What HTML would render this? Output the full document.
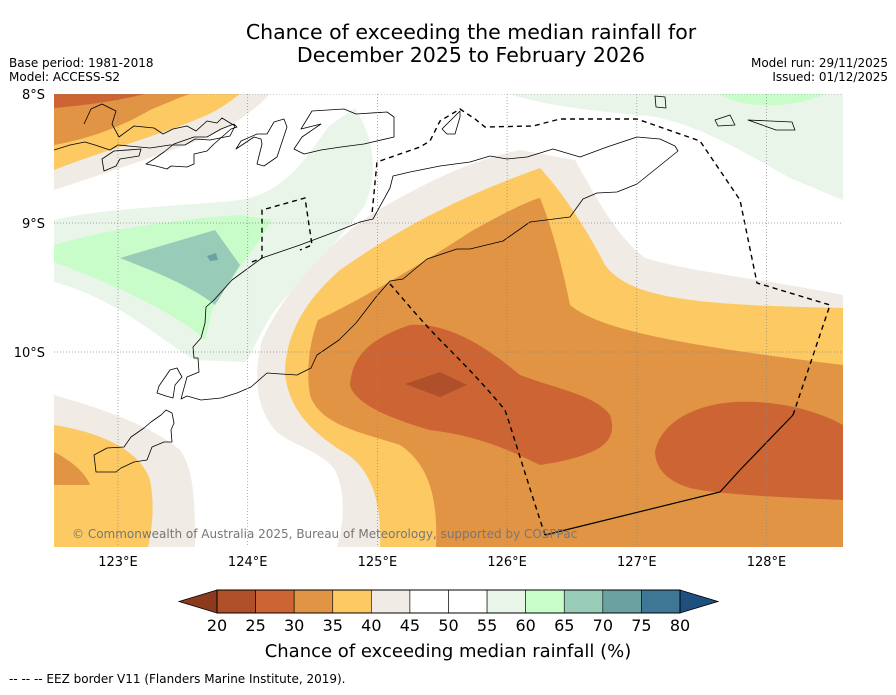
<!DOCTYPE html>
<html><head><meta charset="utf-8"><style>
body{margin:0;background:#fff;width:896px;height:690px;overflow:hidden;font-family:"Liberation Sans","DejaVu Sans",sans-serif}
svg text{font-family:"DejaVu Sans","Liberation Sans",sans-serif}
</style></head><body>
<svg id="s" width="896" height="690" viewBox="0 0 896 690">
<defs><clipPath id="mc"><rect x="54" y="94" width="789" height="453"/></clipPath></defs>
<text x="471" y="39" font-size="20.5" text-anchor="middle">Chance of exceeding the median rainfall for</text>
<text x="471" y="62" font-size="20.5" text-anchor="middle">December 2025 to February 2026</text>
<text x="9" y="67" font-size="12">Base period: 1981-2018</text>
<text x="9" y="81" font-size="12">Model: ACCESS-S2</text>
<text x="888" y="67" font-size="12" text-anchor="end">Model run: 29/11/2025</text>
<text x="888" y="81" font-size="12" text-anchor="end">Issued: 01/12/2025</text>
<g clip-path="url(#mc)">
<rect x="54" y="94" width="789" height="453" fill="#fff"/>
<g fill="#e9f5e9">
<path d="M54,220 C100,208 200,205 240,200 C290,192 310,150 330,125 L355,108 C375,140 378,175 365,205 C340,240 300,280 275,310 C258,335 252,355 245,362 L195,360 C160,340 120,300 54,282Z"/>
<path d="M510,94 C540,105 600,112 650,116 C700,125 740,150 790,178 L843,200 L843,94Z"/>
</g>
<g fill="#c8fcc8">
<path d="M54,245 C110,228 190,218 240,215 L272,220 C255,250 225,285 212,310 L205,340 C185,320 130,290 54,262Z"/>
<path d="M720,94 C740,108 790,110 825,94Z"/>
</g>
<path d="M120,258 L215,230 L240,265 L215,305 C190,285 150,270 120,258Z" fill="#99ccb8"/>
<path d="M207,256 L216,253 L218,260 L210,261Z" fill="#6aa2a2"/>
<g fill="#f0ebe5">
<path d="M337,547 C345,520 345,490 335,470 C320,450 290,445 275,430 C258,410 252,380 262,340 C280,300 320,250 370,215 C420,185 470,160 520,150 L575,160 C595,195 615,235 645,258 C690,272 770,280 843,295 L843,547Z"/>
<path d="M54,190 C100,175 160,155 200,140 C230,128 255,110 270,94 L54,94Z"/>
<path d="M54,395 C100,408 150,425 180,450 C195,470 195,510 195,547 L54,547Z"/>
</g>
<g fill="#fdc963">
<path d="M380,547 C382,500 370,465 340,450 C310,430 290,410 285,375 C285,340 300,305 340,270 C390,235 450,200 540,168 C565,195 590,235 605,265 C630,298 690,305 843,308 L843,547Z"/>
<path d="M54,170 C100,152 160,135 200,118 C220,110 232,100 240,94 L54,94Z"/>
<path d="M54,425 C100,432 140,450 150,480 C155,505 152,530 148,547 L54,547Z"/>
</g>
<g fill="#e09444">
<path d="M436,547 C438,500 430,465 400,445 C360,432 320,425 310,395 C305,365 312,335 318,320 C360,300 420,265 470,232 C500,215 530,200 540,198 C555,235 565,280 570,305 C600,330 680,345 843,365 L843,547Z"/>
<path d="M54,145 C95,138 130,122 150,110 C170,102 180,97 190,94 L54,94Z"/>
<path d="M54,452 C70,460 85,472 90,485 L54,485Z"/>
</g>
<g fill="#cc6433">
<path d="M350,385 C352,360 365,340 410,325 C450,322 490,350 520,375 C560,390 595,395 610,415 C618,440 605,455 540,465 C500,445 470,435 430,430 C395,420 355,405 350,385Z"/>
<path d="M655,452 C660,425 690,405 735,402 C780,400 820,412 843,425 L843,500 C800,498 720,495 690,488 C665,480 656,468 655,452Z"/>
<path d="M54,94 L145,94 C120,100 90,105 54,108Z"/>
</g>
<path d="M405,384 L440,372 L467,385 L440,397Z" fill="#b0502a"/>
<g fill="none" stroke="#000" stroke-width="0.8" stroke-linejoin="round">
<path d="M181,399 L187,396 L201,400 L221,398 L237,393 L251,387 L267,373 L281,374 L297,375 L311,368 L317,355 L339,340 L356,323 L376,297 L390,281 L403,279 L427,259 L457,249 L470,249 L503,241 L530,222 L570,217 L583,199 L597,193 L617,192 L637,184 L678,151 L675,146 L660,139 L637,137 L607,147 L580,157 L553,149 L527,157 L507,159 L490,156 L470,162 L440,166 L410,172 L393,176 L390,188 L373,219 L360,222 L340,230 L300,245 L262,258 L232,280 L214,300 L206,307 L205,323 L201,338 L193,347 L194,358 L198,358 L199,372 L187,377 Z"/>
<path d="M157,393 L159,386 L170,370 L177,368 L182,377 L175,385 L173,398 L166,396Z"/>
<path d="M166,410 L172,413 L174,423 L171,430 L172,442 L164,442 L152,447 L147,460 L134,462 L121,468 L116,472 L96,472 L94,455 L107,448 L124,447 L131,437 L144,428 L151,422 L161,415Z"/>
<path d="M54,150 L70,145 L85,142 L95,145 L110,150 L118,145 L150,148 L170,145 L185,145 L195,139 L210,140 L230,136 L235,126 L222,118 L217,123 L207,121 L196,131 L187,126 L173,129 L163,134 L154,128 L134,126 L119,137 L112,124 L116,111 L102,104 L91,109 L84,124"/>
<path d="M104,171 L102,159 L114,151 L141,149 L139,156 L120,159 L116,166Z"/>
<path d="M146,164 L154,159 L164,152 L174,144 L194,137 L207,137 L221,129 L234,124 L237,127 L231,129 L214,144 L207,151 L194,154 L194,164 L187,167 L171,166 L167,169 L156,166Z"/>
<path d="M236,149 L254,137 L261,139 L262,144 L257,164 L264,166 L277,157 L287,127 L284,119 L274,122 L267,134 L257,134 L241,141Z"/>
<path d="M294,149 L302,137 L321,124 L301,129 L312,111 L344,109 L356,114 L387,112 L394,117 L394,137 L364,144 L341,147 L321,150 L304,154Z"/>
<path d="M442,129 L460,111 L460,117 L455,134 L447,134Z"/>
<path d="M655,96 L665,97 L666,108 L656,107Z"/><path d="M715,120 L730,115 L735,125 L718,126Z"/><path d="M748,120 L792,122 L795,130 L776,130Z"/>
</g>
<g fill="none" stroke="#000" stroke-width="1.4" stroke-dasharray="5,4">
<path d="M390,284 C400,295 415,314 440,340 C460,360 480,380 505,410 C515,440 530,490 545,535"/>
<path d="M793,415 L830,305 L757,283 L740,200 L700,141 L637,119 L560,119 L533,126 L485,127 L475,119 L460,109 L440,121 L430,141 L420,147 L377,162 L372,214"/>
<path d="M252,262 L262,258 L262,210 L305,198 L312,245 L300,250"/>
</g>
<path d="M545,535 L720,492 L740,470 L793,415" fill="none" stroke="#000" stroke-width="1.2"/>
<g id="grid" stroke="#888" stroke-width="0.7" stroke-dasharray="1,2"></g>
<text x="72" y="538" font-size="12" fill="#777">© Commonwealth of Australia 2025, Bureau of Meteorology, supported by COSPPac</text>
</g>
<g id="axes"></g>
<g id="cbar"></g>
<text x="448" y="657" font-size="18" text-anchor="middle">Chance of exceeding median rainfall (%)</text>
<text x="9" y="683" font-size="12">--  --  -- EEZ border V11 (Flanders Marine Institute, 2019).</text>
</svg>
<script>
const lonTicks=[123,124,125,126,127,128];
const latTicks=[8,9,10];
const cbLevels=[20,25,30,35,40,45,50,55,60,65,70,75,80];
const cbColors=["#b0502a","#cc6433","#e09444","#fdc963","#f0ebe5","#ffffff","#ffffff","#e9f5e9","#c8fcc8","#99ccb8","#6aa2a2","#3e7796"];
const NS="http://www.w3.org/2000/svg";
const xLon=l=>118+(l-123)*129.7;
const yLat=l=>94+(l-8)*129;
const xCb=v=>217+(v-20)*(463/60);
function mk(tag,attrs,parent,txt){const e=document.createElementNS(NS,tag);for(const k in attrs)e.setAttribute(k,attrs[k]);if(txt!==undefined)e.textContent=txt;parent.appendChild(e);return e;}
const grid=document.getElementById('grid'),axes=document.getElementById('axes'),cb=document.getElementById('cbar');
lonTicks.forEach(l=>{const x=xLon(l);
 const g=mk('line',{x1:x,x2:x,y1:94,y2:547},grid);
 
 
 const t=mk('text',{x:x,y:566,'font-size':13,'text-anchor':'middle'},axes,l+'°E');
 
 });
latTicks.forEach(l=>{const y=yLat(l);
 const g=mk('line',{x1:54,x2:843,y1:y,y2:y},grid);
 
 
 const t=mk('text',{x:45,y:y+5,'font-size':13,'text-anchor':'end'},axes,l+'°S');
 
 });
const y0=590,h=23;
const la=mk('polygon',{points:`${xCb(20)},${y0} ${xCb(20)},${y0+h} 179,${y0+h/2}`,fill:'#8b3a1e',stroke:'#000','stroke-width':0.8},cb);


const ra=mk('polygon',{points:`${xCb(80)},${y0} ${xCb(80)},${y0+h} 718,${y0+h/2}`,fill:'#1f4f7f',stroke:'#000','stroke-width':0.8},cb);


cbColors.forEach((c,i)=>{const r=mk('rect',{x:xCb(cbLevels[i]),y:y0,width:xCb(cbLevels[i+1])-xCb(cbLevels[i]),height:h,fill:c,stroke:'#000','stroke-width':0.6},cb);
 
 });
const ob=mk('rect',{x:xCb(20),y:y0,width:xCb(80)-xCb(20),height:h,fill:'none',stroke:'#000','stroke-width':1},cb);


cbLevels.forEach(v=>{const t=mk('text',{x:xCb(v),y:631,'font-size':16,'text-anchor':'middle'},cb,v);
 
 });
</script>
</body></html>
